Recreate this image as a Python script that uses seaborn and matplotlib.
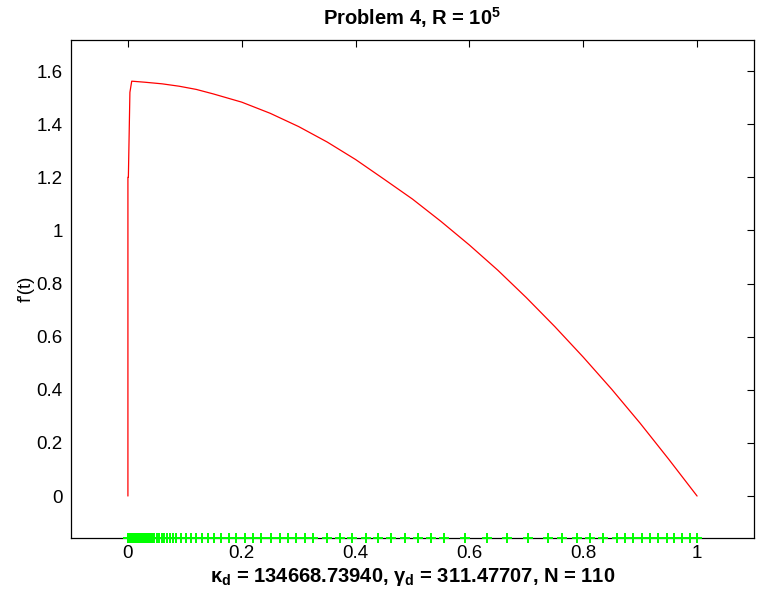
import matplotlib
matplotlib.use("Agg")
import matplotlib.pyplot as plt
import seaborn as sns
import numpy as np
from matplotlib.ticker import FuncFormatter, FixedLocator

# ---- data ----
curve_t = [0.0, 0.0, 0.0008, 0.0035, 0.0067, 0.03, 0.06, 0.09, 0.12, 0.15, 0.2, 0.25,
           0.3, 0.35, 0.4, 0.45, 0.5, 0.55, 0.6, 0.65, 0.7, 0.75, 0.8, 0.85,
           0.9, 0.95, 1.0]
curve_f = [0.0, 1.2, 1.2, 1.52, 1.562, 1.558, 1.552, 1.543, 1.531, 1.514, 1.483, 1.441,
           1.391, 1.333, 1.267, 1.193, 1.118, 1.034, 0.945, 0.850, 0.747, 0.638, 0.523, 0.402,
           0.274, 0.139, 0.0]

mesh_block = [0.0, 0.0001, 0.0003, 0.0006, 0.001, 0.0015, 0.002, 0.0026, 0.0032, 0.0038,
              0.0045, 0.0052, 0.0059, 0.0066, 0.0073, 0.0080, 0.0087, 0.0094, 0.0101,
              0.0108, 0.0115, 0.0122, 0.0129, 0.0136, 0.0143, 0.0150, 0.0157, 0.0164,
              0.0171, 0.0178, 0.0185, 0.0192, 0.0199, 0.0206, 0.0213, 0.0221, 0.0229,
              0.0237, 0.0245, 0.0253, 0.0261, 0.0270, 0.0279, 0.0288, 0.0297, 0.0307,
              0.0317, 0.0327, 0.0338, 0.0349, 0.0361, 0.0374, 0.0388, 0.0403, 0.0420,
              0.0440]
mesh_rest = [0.0466, 0.0507, 0.0549, 0.0595, 0.0642, 0.0690, 0.0735, 0.0788, 0.0848,
             0.0936, 0.1024, 0.1112, 0.1200, 0.1298, 0.1404, 0.1510, 0.1640, 0.1768,
             0.1904, 0.2050, 0.2195, 0.2343, 0.2507, 0.2665, 0.2811, 0.2959, 0.3105,
             0.3251, 0.3497, 0.3720, 0.3944, 0.4178, 0.4394, 0.4630, 0.4864, 0.5098,
             0.5333, 0.5550, 0.5919, 0.6301, 0.6653, 0.7022, 0.7385, 0.7620, 0.7884,
             0.8118, 0.8352, 0.8588, 0.8734, 0.8880, 0.9027, 0.9173, 0.9319, 0.9467,
             0.9601, 0.9731, 0.9877, 1.0]
mesh = mesh_block + mesh_rest

x_ticks = [0, 0.2, 0.4, 0.6, 0.8, 1.0]
y_ticks = [0, 0.2, 0.4, 0.6, 0.8, 1.0, 1.2, 1.4, 1.6]
x_lim = (-0.1, 1.1)
y_lim = (-0.158, 1.717)

title_text = r"Problem 4, R = 10$^{\mathbf{5}}$"
xlabel_text = r"κ$_{\mathbf{d}}$ = 134668.73940, γ$_{\mathbf{d}}$ = 311.47707, N = 110"
ylabel_text = "f'(t)"

# ---- style ----
sns.set_style("white")
plt.rcParams['font.family'] = ['Liberation Sans', 'DejaVu Sans']
plt.rcParams['mathtext.fontset'] = 'custom'
plt.rcParams['mathtext.rm'] = 'Liberation Sans'
plt.rcParams['mathtext.bf'] = 'Liberation Sans:bold'
plt.rcParams['text.color'] = 'black'
plt.rcParams['axes.labelcolor'] = 'black'

fig = plt.figure(figsize=(7.57, 5.92), dpi=100)
ax = fig.add_axes([71/757, 54/592, (754-71)/757, (538-40)/592])

sns.lineplot(x=curve_t, y=curve_f, sort=False, estimator=None, color='#ff0000',
             linewidth=0.9, ax=ax)
sns.scatterplot(x=mesh, y=[y_lim[0]] * len(mesh), marker='+', color='#00ff00',
                s=60, linewidth=1.4, ax=ax, clip_on=False, zorder=5)

ax.set_xlim(*x_lim)
ax.set_ylim(*y_lim)
ax.xaxis.set_major_locator(FixedLocator(x_ticks))
ax.yaxis.set_major_locator(FixedLocator(y_ticks))
fmt = FuncFormatter(lambda v, p: "%g" % round(v, 6))
ax.xaxis.set_major_formatter(fmt)
ax.yaxis.set_major_formatter(fmt)
ax.tick_params(direction='in', top=True, right=True, length=5, width=0.8,
               labelsize=13.5, colors='black')
ax.tick_params(axis='y', pad=6)
ax.tick_params(axis='x', pad=5)

for s in ax.spines.values():
    s.set_visible(True)
    s.set_color('black')
    s.set_linewidth(0.9)

ax.set_title(title_text, fontsize=14.5, fontweight='bold', pad=11, color='black')
ax.set_xlabel(xlabel_text, fontsize=14.5, fontweight='bold', labelpad=3)
ax.set_ylabel(ylabel_text, fontsize=13.5, labelpad=1)

fig.savefig("out.png", dpi=100)
